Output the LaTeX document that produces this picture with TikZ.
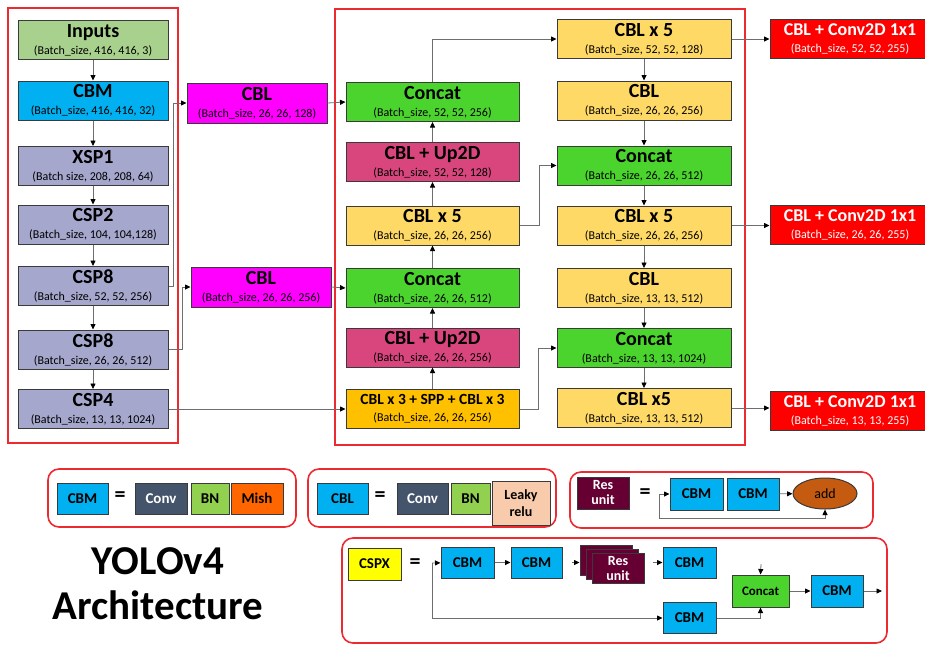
\documentclass[tikz,border=0pt]{standalone}
\usepackage{fontspec}
\setmainfont{Carlito}
\usepackage{xcolor}
\usepackage{tikz}
\usetikzlibrary{arrows.meta,positioning,shapes.geometric}
\definecolor{edge}{HTML}{3A3A3A}
\definecolor{line}{HTML}{6E6E6E}
\definecolor{frame}{HTML}{EC2A30}
\definecolor{inp}{HTML}{A9D18E}
\definecolor{cbm}{HTML}{00B0F0}
\definecolor{csp}{HTML}{A5A7CD}
\definecolor{mag}{HTML}{FF00FF}
\definecolor{cat}{HTML}{4BD32E}
\definecolor{upd}{HTML}{D9467E}
\definecolor{cbly}{HTML}{FFD966}
\definecolor{spp}{HTML}{FFC000}
\definecolor{outred}{HTML}{FF0000}
\definecolor{conv}{HTML}{44546A}
\definecolor{bn}{HTML}{92D050}
\definecolor{mish}{HTML}{FF6600}
\definecolor{leaky}{HTML}{F8CBAD}
\definecolor{res}{HTML}{660033}
\definecolor{addc}{HTML}{C55A11}
\definecolor{cspy}{HTML}{FFFF00}
\newcommand{\subf}{\fontsize{12}{17}\selectfont}
\newcommand{\legf}{\fontsize{15}{16}\selectfont\bfseries}
\newcommand{\ttl}[1]{{\fontsize{20}{20}\selectfont\bfseries #1}}

\begin{document}
\begin{tikzpicture}[x=1pt,y=-1pt,
  box/.style={draw=edge,line width=1pt,inner sep=0pt,align=center,font=\subf},
  lcol/.style={box,minimum width=150pt,minimum height=39pt},
  mcol/.style={box,minimum width=173pt,minimum height=39pt},
  rcol/.style={box,minimum width=174pt,minimum height=39pt},
  outb/.style={box,fill=outred,text=white,minimum width=160pt,minimum height=39pt},
  leg/.style={box,minimum height=31pt,font=\legf},
  frm/.style={draw=frame,line width=1.6pt},
  legfrm/.style={frm,rounded corners=11pt},
  arr/.style={-{Triangle[length=5.5pt,width=5pt,color=black]},draw=line,line width=0.8pt},
  eq/.style={font=\fontsize{22}{22}\selectfont\bfseries,inner sep=0pt}
]
\useasboundingbox (0,0) rectangle (925,646);

% frames
\draw[frm] (8,8) rectangle (178,443);
\draw[frm] (335,9) rectangle (745,445);

% backbone
\node[lcol,fill=inp] (inp) at (93,40) {\ttl{Inputs}\\(Batch\_size, 416, 416, 3)};
\node[lcol,fill=cbm] (cbm) at (93,100.5) {\ttl{CBM}\\(Batch\_size, 416, 416, 32)};
\node[lcol,fill=csp] (xsp1) at (93,166) {\ttl{XSP1}\\(Batch size, 208, 208, 64)};
\node[lcol,fill=csp] (csp2) at (93,224.5) {\ttl{CSP2}\\(Batch\_size, 104, 104,128)};
\node[lcol,fill=csp] (csp8a) at (93,286) {\ttl{CSP8}\\(Batch\_size, 52, 52, 256)};
\node[lcol,fill=csp] (csp8b) at (93,349.5) {\ttl{CSP8}\\(Batch\_size, 26, 26, 512)};
\node[lcol,fill=csp] (csp4) at (93,409) {\ttl{CSP4}\\(Batch\_size, 13, 13, 1024)};

\node[box,fill=mag,minimum width=140pt,minimum height=40pt] (cbl1) at (257,103) {\ttl{CBL}\\(Batch\_size, 26, 26, 128)};
\node[box,fill=mag,minimum width=140pt,minimum height=40pt] (cbl2) at (261,287) {\ttl{CBL}\\(Batch\_size, 26, 26, 256)};

% neck, middle column
\node[mcol,fill=cat] (m1) at (432.5,102) {\ttl{Concat}\\(Batch\_size, 52, 52, 256)};
\node[mcol,fill=upd] (m2) at (432.5,162) {\ttl{CBL + Up2D}\\(Batch\_size, 52, 52, 128)};
\node[mcol,fill=cbly] (m3) at (432.5,225.5) {\ttl{CBL x 5}\\(Batch\_size, 26, 26, 256)};
\node[mcol,fill=cat] (m4) at (432.5,288) {\ttl{Concat}\\(Batch\_size, 26, 26, 512)};
\node[mcol,fill=upd] (m5) at (432.5,347.5) {\ttl{CBL + Up2D}\\(Batch\_size, 26, 26, 256)};
\node[mcol,fill=spp] (spp) at (432.5,409) {{\fontsize{15.5}{16}\selectfont\bfseries CBL x 3 + SPP + CBL x 3}\\(Batch\_size, 26, 26, 256)};

% neck, right column
\node[rcol,fill=cbly] (r1) at (644,39) {\ttl{CBL x 5}\\(Batch\_size, 52, 52, 128)};
\node[rcol,fill=cbly] (r2) at (644,100.5) {\ttl{CBL}\\(Batch\_size, 26, 26, 256)};
\node[rcol,fill=cat] (r3) at (644,165.5) {\ttl{Concat}\\(Batch\_size, 26, 26, 512)};
\node[rcol,fill=cbly] (r4) at (644,225.5) {\ttl{CBL x 5}\\(Batch\_size, 26, 26, 256)};
\node[rcol,fill=cbly] (r5) at (644,288) {\ttl{CBL}\\(Batch\_size, 13, 13, 512)};
\node[rcol,fill=cat] (r6) at (644,348) {\ttl{Concat}\\(Batch\_size, 13, 13, 1024)};
\node[rcol,fill=cbly] (r7) at (644,408) {\ttl{CBL x5}\\(Batch\_size, 13, 13, 512)};

% heads
\node[outb] (o1) at (850,38.5) {{\fontsize{18}{18}\selectfont\bfseries CBL + Conv2D 1x1}\\(Batch\_size, 52, 52, 255)};
\node[outb] (o2) at (850,224.5) {{\fontsize{18}{18}\selectfont\bfseries CBL + Conv2D 1x1}\\(Batch\_size, 26, 26, 255)};
\node[outb] (o3) at (850,411) {{\fontsize{18}{18}\selectfont\bfseries CBL + Conv2D 1x1}\\(Batch\_size, 13, 13, 255)};

\foreach \a/\b in {inp/cbm,cbm/xsp1,xsp1/csp2,csp2/csp8a,csp8a/csp8b,csp8b/csp4,
                   spp/m5,m5/m4,m4/m3,m3/m2,m2/m1,
                   r1/r2,r2/r3,r3/r4,r4/r5,r5/r6,r6/r7}
  \draw[arr] (\a) -- (\b);
\draw[arr] (csp8a.east) -- ++(5,0) |- (cbl1.west);
\draw[arr] (csp8b.east) -- ++(14,0) |- (cbl2.west);
\draw[arr] (csp4.east) -- (spp.west);
\draw[arr] (cbl1.east) -- (m1.west);
\draw[arr] (cbl2.east) -- (m4.west);
\draw[arr] (m1.north) |- (r1.west);
\draw[arr] (m3.east) -- ++(20,0) |- (r3.west);
\draw[arr] (spp.east) -- ++(19,0) |- (r6.west);
\draw[arr] (r1.east) -- (r1.east -| o1.west);
\draw[arr] (r4.east) -- (r4.east -| o2.west);
\draw[arr] (r7.east) -- (r7.east -| o3.west);

% title
\node[font=\fontsize{41}{45}\selectfont\bfseries,align=center,inner sep=0pt] (title) at (158,584) {YOLOv4\\Architecture};

% legend: CBM
\draw[legfrm] (48,469) rectangle (296,527);
\node[leg,fill=cbm,minimum width=51pt] (kcbm) at (82.5,498.5) {CBM};
\node[eq] (eq1) at (120,497) {=};
\node[leg,fill=conv,text=white,minimum width=52pt] (kconv1) at (161,498.5) {Conv};
\node[leg,fill=bn,minimum width=38pt] (kbn1) at (210,498.5) {BN};
\node[leg,fill=mish,minimum width=52pt] (kmish) at (257,498.5) {Mish};

% legend: CBL
\draw[legfrm] (308,469) rectangle (556,527);
\node[leg,fill=cbm,minimum width=51pt] (kcbl) at (342.5,498.5) {CBL};
\node[eq] (eq2) at (380,497) {=};
\node[leg,fill=conv,text=white,minimum width=51pt] (kconv2) at (422.5,498.5) {Conv};
\node[leg,fill=bn,minimum width=39pt] (kbn2) at (470.5,498.5) {BN};
\node[leg,fill=leaky,minimum width=58pt,minimum height=44pt,font=\fontsize{14}{17}\selectfont\bfseries] (kleaky) at (521,503) {Leaky\\relu};

% legend: Res unit
\draw[legfrm] (570,472) rectangle (873,528);
\node[leg,fill=res,text=white,minimum width=52pt,minimum height=32pt,font=\fontsize{14}{15}\selectfont\bfseries] (kres) at (603,493) {Res\\unit};
\node[eq] (eq3) at (645,494) {=};
\coordinate (resin) at (659,494);
\node[leg,fill=cbm,minimum width=53pt,minimum height=32pt] (rcbm1) at (696.5,494) {CBM};
\node[leg,fill=cbm,minimum width=52pt,minimum height=32pt] (rcbm2) at (753,494) {CBM};
\node[box,ellipse,fill=addc,minimum width=64pt,minimum height=31pt,font=\fontsize{14}{15}\selectfont] (add) at (825,493.5) {add};
\draw[arr] (resin) -- (rcbm1);
\draw[arr] (rcbm2) -- (add);
\draw[arr] (resin) -- ++(0,24) -| (add.south);

% legend: CSPX
\draw[legfrm] (342,538) rectangle (887,643);
\node[leg,fill=cspy,minimum width=53pt,minimum height=32pt] (kcsp) at (374.5,564) {CSPX};
\node[eq] (eq4) at (415,564) {=};
\coordinate (cspin) at (432,563);
\node[leg,fill=cbm,minimum width=53pt] (c1) at (467.5,562.5) {CBM};
\node[leg,fill=cbm,minimum width=51pt] (c2) at (536.5,562.5) {CBM};
\node[box,fill=res,minimum width=52pt,minimum height=30pt] (rs3) at (606,560) {};
\node[box,fill=res,minimum width=52pt,minimum height=30pt] (rs2) at (612,564) {};
\node[box,fill=res,text=white,minimum width=52pt,minimum height=30pt,font=\fontsize{14}{15}\selectfont\bfseries] (rs1) at (618,568) {Res\\unit};
\node[leg,fill=cbm,minimum width=53pt] (c3) at (689.5,562.5) {CBM};
\node[leg,fill=cat,minimum width=57pt,minimum height=32pt,font=\fontsize{13}{14}\selectfont\bfseries] (ccat) at (760.5,591) {Concat};
\node[leg,fill=cbm,minimum width=52pt,minimum height=32pt] (c5) at (837,591) {CBM};
\node[leg,fill=cbm,minimum width=53pt] (c4) at (689.5,618) {CBM};
\coordinate (catin) at (761,564);
\coordinate (cspout) at (882,591);
\draw[arr] (cspin) -- (c1);
\draw[arr] (cspin) |- (c4);
\draw[arr] (c1) -- (c2);
\draw[arr,shorten <=9pt] (c2.east) -- (c2.east -| rs3.west);
\draw[arr,shorten <=8pt] (rs1.east |- c3) -- (c3.west);
\draw[arr] (catin) -- (ccat.north);
\draw[arr] (c4.east) -| (ccat.south);
\draw[arr] (ccat) -- (c5);
\draw[arr] (c5) -- (cspout);
\end{tikzpicture}
\end{document}
